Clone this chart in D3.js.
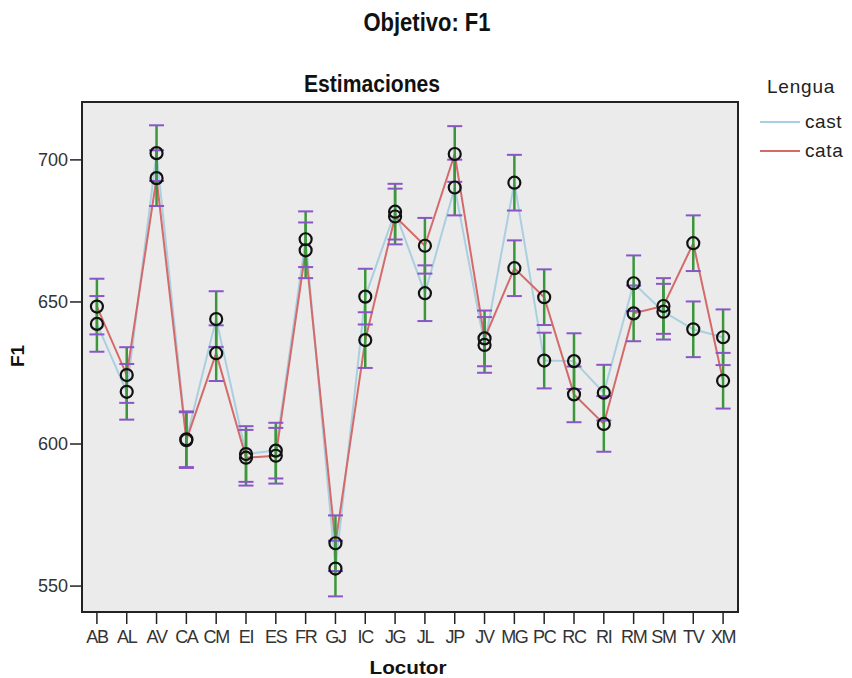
<!DOCTYPE html>
<html>
<head>
<meta charset="utf-8">
<script src="https://cdn.jsdelivr.net/npm/d3@7"></script>
<style>
  body { margin: 0; background: #fff; }
  svg { display: block; }
</style>
</head>
<body>
<svg id="chart" width="852" height="678"></svg>
<script>
// Speakers (Locutor)
const speakers = ["AB","AL","AV","CA","CM","EI","ES","FR","GJ","IC","JG","JL","JP","JV","MG","PC","RC","RI","RM","SM","TV","XM"];
// Estimated mean F1 per speaker, by language
const castMeans = [642.1, 618.2, 702.2, 601.5, 643.8, 596.3, 597.5, 671.9, 556.0, 651.7, 681.6, 652.9, 690.1, 634.7, 691.8, 629.2, 629.0, 617.9, 656.4, 646.4, 640.2, 637.4];
const cataMeans = [648.2, 624.1, 693.4, 601.2, 631.8, 595.0, 595.7, 668.0, 564.9, 636.4, 679.9, 669.6, 701.9, 637.0, 661.7, 651.5, 617.3, 606.9, 645.8, 648.4, 670.5, 622.1];
// Half width of the 95% confidence interval
const ciHalf = 9.8;
const yTicks = [550, 600, 650, 700];
const seriesNames = ["cast", "cata"];
const seriesColors = ["#a9cfe0", "#d46a6a"];

const svg = d3.select("#chart");
const margin = { left: 82, right: 114, top: 102, bottom: 66 };
const W = 852, H = 678;
const sans = "Arial, 'Liberation Sans', sans-serif";

const x = d3.scaleBand().domain(speakers).range([margin.left, W - margin.right]).padding(0);
const y = d3.scaleLinear().domain([540.7, 720.2]).range([H - margin.bottom, margin.top]);

// plot background
svg.append("rect")
  .attr("x", margin.left).attr("y", margin.top)
  .attr("width", W - margin.left - margin.right)
  .attr("height", H - margin.top - margin.bottom)
  .attr("fill", "#ebebeb");

const cx = d => x(d) + x.bandwidth() / 2;

const series = [castMeans, cataMeans].map((vals, i) => ({
  name: seriesNames[i], color: seriesColors[i],
  points: speakers.map((s, j) => ({ s, v: vals[j] }))
}));

const line = d3.line().x(d => cx(d.s)).y(d => y(d.v));

// mean lines
svg.selectAll("path.series").data(series).join("path")
  .attr("class", "series")
  .attr("d", d => line(d.points))
  .attr("fill", "none")
  .attr("stroke", d => d.color)
  .attr("stroke-width", 2);

// error bars
const allPts = series.flatMap(s => s.points);
svg.selectAll("line.err").data(allPts).join("line")
  .attr("class", "err")
  .attr("x1", d => cx(d.s)).attr("x2", d => cx(d.s))
  .attr("y1", d => y(d.v - ciHalf)).attr("y2", d => y(d.v + ciHalf))
  .attr("stroke", "#3c963c").attr("stroke-width", 2.5);

const capW = 7.5;
["lo", "hi"].forEach(k => {
  svg.selectAll("line.cap" + k).data(allPts).join("line")
    .attr("class", "cap" + k)
    .attr("x1", d => cx(d.s) - capW).attr("x2", d => cx(d.s) + capW)
    .attr("y1", d => y(k === "lo" ? d.v - ciHalf : d.v + ciHalf))
    .attr("y2", d => y(k === "lo" ? d.v - ciHalf : d.v + ciHalf))
    .attr("stroke", "#8a55c8").attr("stroke-width", 2);
});

// markers
svg.selectAll("circle.pt").data(allPts).join("circle")
  .attr("class", "pt")
  .attr("cx", d => cx(d.s)).attr("cy", d => y(d.v))
  .attr("r", 6)
  .attr("fill", "none")
  .attr("stroke", "#111").attr("stroke-width", 2.2);

// frame
svg.append("rect")
  .attr("x", margin.left).attr("y", margin.top)
  .attr("width", W - margin.left - margin.right)
  .attr("height", H - margin.top - margin.bottom)
  .attr("fill", "none").attr("stroke", "#222").attr("stroke-width", 2);

// y axis
const yAxis = svg.append("g")
  .attr("transform", `translate(${margin.left},0)`)
  .call(d3.axisLeft(y).tickValues(yTicks).tickSize(12).tickPadding(2));
yAxis.select(".domain").remove();
yAxis.selectAll("line").attr("stroke", "#222").attr("stroke-width", 1.5);
yAxis.selectAll("text").attr("font-family", sans)
  .attr("font-size", 18).attr("fill", "#333");

// x axis
const xAxis = svg.append("g")
  .attr("transform", `translate(0,${H - margin.bottom})`)
  .call(d3.axisBottom(x).tickSize(12).tickPadding(6));
xAxis.select(".domain").remove();
xAxis.selectAll("line").attr("stroke", "#222").attr("stroke-width", 1.5);
xAxis.selectAll("text").attr("font-family", sans)
  .attr("font-size", 18).attr("fill", "#333").attr("letter-spacing", -1.3);

// condensed bold headings
function heading(txt, cxPos, base, size) {
  svg.append("text")
    .attr("transform", `translate(${cxPos},${base}) scale(0.88,1)`)
    .attr("text-anchor", "middle").attr("font-family", sans)
    .attr("font-weight", "bold").attr("font-size", size).attr("fill", "#111")
    .text(txt);
}
heading("Objetivo: F1", 427, 31, 25);
heading("Estimaciones", 372, 92, 24);

// axis titles, slightly widened
svg.append("text")
  .attr("transform", "translate(408,674) scale(1.15,1)")
  .attr("text-anchor", "middle").attr("font-family", sans)
  .attr("font-weight", "bold").attr("font-size", 18).attr("fill", "#111")
  .text("Locutor");
svg.append("text")
  .attr("transform", `translate(24,356) rotate(-90)`)
  .attr("text-anchor", "middle").attr("font-family", sans)
  .attr("font-weight", "bold").attr("font-size", 19).attr("fill", "#111")
  .text("F1");

// legend
const lg = svg.append("g");
lg.append("text").attr("x", 767).attr("y", 93)
  .attr("font-family", sans).attr("letter-spacing", 0.8)
  .attr("font-size", 19).attr("fill", "#222").text("Lengua");
series.forEach((s, i) => {
  const ly = 122 + i * 29;
  lg.append("line").attr("x1", 760).attr("x2", 800).attr("y1", ly).attr("y2", ly)
    .attr("stroke", s.color).attr("stroke-width", 2);
  lg.append("text").attr("x", 805).attr("y", ly + 6)
    .attr("font-family", sans).attr("letter-spacing", 0.6)
    .attr("font-size", 19).attr("fill", "#222").text(s.name);
});
</script>
</body>
</html>
